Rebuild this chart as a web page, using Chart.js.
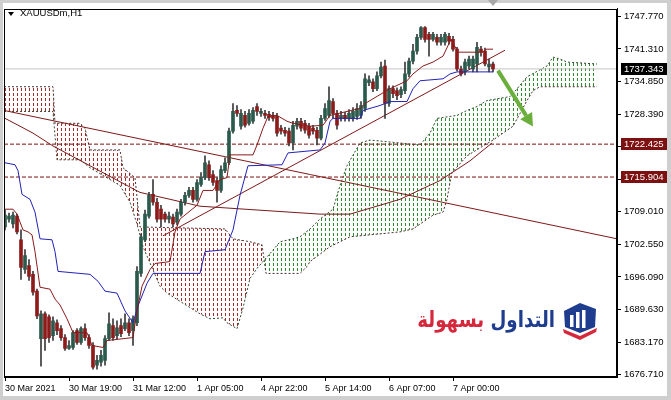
<!DOCTYPE html>
<html><head><meta charset="utf-8">
<script src="https://cdn.jsdelivr.net/npm/chart.js@4.4.1/dist/chart.umd.min.js"></script>
<style>
html,body{margin:0;padding:0;background:#fff;}
#wrap{position:relative;width:671px;height:400px;overflow:hidden;}
#c{position:absolute;left:0;top:0;}
#tri{position:absolute;left:8px;top:12px;width:0;height:0;border-left:3.5px solid transparent;border-right:3.5px solid transparent;border-top:4px solid #000;}
#title{position:absolute;left:20px;top:7px;font:9.5px 'Liberation Sans','DejaVu Sans',sans-serif;line-height:12px;color:#000;white-space:nowrap;}
#logo{position:absolute;right:116px;top:304px;font:bold 22px 'DejaVu Sans',sans-serif;line-height:32px;white-space:nowrap;direction:rtl;transform:scaleX(0.83);transform-origin:right center;}
#icon{position:absolute;left:561px;top:301px;}
</style></head><body>
<div id="wrap">
<canvas id="c" width="671" height="400"></canvas>
<div id="tri"></div>
<div id="title">XAUUSDm,H1</div>
<div id="logo"><span style="color:#1e3d8f">التداول</span> <span style="color:#d6283c">بسهولة</span></div>
<svg id="icon" width="38" height="40" viewBox="0 0 38 40">
<path d="M3,10 L19,2 L35,8 L34,26 L19,32 L4,26 Z" fill="#1e3d8f"/>
<rect x="9" y="14" width="3.5" height="12" fill="#fff"/>
<rect x="15" y="11" width="3.5" height="16" fill="#fff"/>
<rect x="21" y="9" width="3.5" height="18" fill="#fff"/>
<path d="M2,28 L19,35 L36,27 L35,31 L19,39 L3,32 Z" fill="#d6283c"/>
</svg>
</div>
<script>
// ---- candle data (XAUUSDm H1), index 0 = 30 Mar 2021 ----
const opens=[1706.01,1707.57,1706.59,1708.16,1703.46,1697.59,1698.37,1696.61,1693.28,1683.88,1688.78,1688.19,1684.47,1687.01,1685.84,1684.08,1681.92,1682.12,1685.45,1683.10,1685.84,1684.08,1682.51,1678.59,1679.18,1679.57,1683.88,1686.43,1684.47,1686.43,1685.84,1687.01,1685.45,1687.01,1696.80,1703.46,1708.16,1712.47,1710.90,1709.53,1708.55,1707.57,1707.96,1706.98,1708.55,1710.90,1712.27,1713.25,1711.49,1714.42,1715.79,1718.34,1716.38,1715.21,1713.25,1717.17,1718.73,1725.00,1729.11,1725.98,1728.13,1726.56,1726.96,1729.89,1728.52,1728.52,1728.33,1728.13,1727.93,1725.59,1725.19,1725.00,1722.65,1725.98,1726.96,1726.56,1725.98,1725.59,1725.19,1723.63,1727.54,1728.13,1730.87,1728.52,1727.54,1728.13,1727.54,1727.54,1727.93,1728.13,1729.50,1734.59,1734.79,1733.42,1735.96,1737.92,1730.48,1733.42,1733.03,1732.24,1733.03,1736.35,1738.90,1740.86,1743.60,1745.56,1744.19,1743.21,1743.60,1742.62,1742.62,1743.79,1743.21,1741.25,1737.33,1736.75,1737.92,1737.33,1738.31,1741.25,1740.86,1737.73,1738.31];
const highs=[1709.33,1708.75,1708.94,1708.55,1705.42,1701.50,1699.54,1697.20,1693.67,1689.37,1689.17,1688.58,1688.19,1687.60,1686.43,1684.66,1683.49,1685.45,1685.84,1686.23,1686.82,1684.66,1683.10,1680.55,1681.53,1684.47,1688.97,1687.80,1687.40,1687.80,1688.78,1687.80,1688.39,1698.17,1704.64,1709.33,1712.86,1715.40,1711.68,1710.31,1708.94,1708.94,1708.55,1709.53,1711.49,1712.86,1713.84,1713.84,1715.40,1716.77,1720.10,1719.12,1717.17,1715.79,1718.14,1719.71,1725.59,1730.48,1730.09,1729.30,1728.91,1729.30,1729.70,1730.48,1729.50,1729.11,1728.91,1728.72,1728.52,1726.17,1725.78,1725.59,1726.96,1727.54,1727.54,1727.15,1726.56,1726.17,1725.78,1728.13,1730.48,1733.81,1731.46,1729.11,1728.91,1728.72,1729.30,1729.70,1730.48,1730.87,1736.35,1735.96,1735.38,1736.75,1738.70,1739.10,1734.01,1734.01,1733.61,1733.81,1738.70,1739.49,1742.23,1744.19,1745.75,1745.75,1744.58,1744.58,1744.19,1744.19,1744.58,1744.38,1743.79,1741.64,1737.92,1739.29,1739.88,1739.88,1742.62,1741.84,1741.45,1739.29,1738.70];
const lows=[1705.42,1706.98,1705.81,1704.64,1695.63,1696.80,1695.43,1692.50,1687.80,1678.40,1681.53,1683.10,1683.49,1684.66,1683.49,1681.53,1681.73,1681.73,1682.71,1682.71,1683.49,1681.92,1677.81,1677.81,1678.40,1678.59,1683.49,1683.49,1683.88,1684.27,1685.45,1684.47,1682.51,1686.43,1696.21,1703.07,1707.77,1710.31,1706.98,1706.01,1706.98,1706.79,1706.01,1706.40,1708.16,1710.31,1711.88,1710.90,1711.10,1714.03,1715.40,1715.21,1714.23,1710.90,1712.86,1716.77,1718.34,1724.61,1727.93,1725.39,1725.78,1726.17,1726.56,1728.13,1727.93,1727.54,1727.15,1726.96,1724.02,1724.41,1724.02,1722.06,1721.28,1725.39,1725.00,1724.61,1723.63,1724.41,1722.26,1723.24,1727.15,1727.74,1727.54,1725.39,1726.96,1726.96,1726.96,1726.96,1727.35,1727.54,1728.91,1734.01,1732.83,1733.03,1735.57,1727.54,1729.89,1731.65,1731.26,1731.65,1732.44,1735.77,1738.31,1740.27,1743.21,1742.62,1739.88,1742.82,1742.03,1742.03,1742.03,1742.23,1740.86,1736.94,1735.96,1736.16,1737.33,1736.75,1736.75,1739.88,1737.92,1736.75,1736.75];
const closes=[1708.35,1708.16,1708.35,1705.03,1697.98,1700.33,1696.21,1693.08,1688.39,1688.78,1683.88,1684.08,1687.40,1685.45,1684.08,1681.92,1682.51,1685.06,1683.10,1685.84,1684.08,1682.51,1678.20,1679.57,1680.55,1683.88,1686.82,1684.08,1686.03,1684.86,1687.01,1685.06,1687.80,1697.20,1704.05,1708.55,1712.27,1710.90,1707.57,1707.57,1707.57,1708.16,1706.59,1708.94,1710.90,1712.27,1713.25,1711.49,1714.82,1715.79,1718.73,1715.79,1714.82,1713.25,1717.36,1718.73,1725.00,1728.91,1728.52,1728.52,1726.17,1728.52,1729.11,1728.91,1728.91,1728.13,1727.74,1727.54,1724.61,1725.00,1724.61,1722.65,1726.17,1726.96,1725.59,1725.19,1724.22,1725.00,1723.63,1727.54,1729.50,1731.07,1728.52,1726.17,1728.13,1727.54,1728.52,1728.91,1729.50,1730.09,1735.38,1735.18,1733.42,1735.96,1737.73,1730.48,1733.42,1732.44,1732.05,1733.22,1736.35,1738.90,1740.86,1743.60,1745.56,1743.21,1743.21,1744.19,1742.62,1743.60,1744.19,1742.82,1741.25,1737.33,1736.35,1738.70,1739.29,1739.29,1741.64,1740.66,1738.31,1738.31,1737.34];

// ---- axis ticks ----
const xTickIndex=[0,16,32,48,64,80,96,112];
const xTickLabels=['30 Mar 2021','30 Mar 19:00','31 Mar 12:00','1 Apr 05:00','4 Apr 22:00','5 Apr 14:00','6 Apr 07:00','7 Apr 00:00'];
const yTickValues=[1747.770,1741.310,1734.850,1728.390,1721.930,1715.470,1709.010,1702.550,1696.090,1689.630,1683.170,1676.710];

// ---- indicator lines [bar index, price] ----
const tenkan=[[0,1709.53],[2,1709.53],[3,1708.55],[3.75,1706.98],[4.5,1705.42],[5.75,1705.03],[6.75,1704.44],[7.5,1701.11],[8.75,1694.06],[11.25,1693.67],[12.5,1691.71],[13.75,1690.54],[15.5,1687.80],[17,1685.06],[20.5,1685.06],[21.75,1682.51],[24.5,1682.12],[25.5,1683.49],[32,1684.08],[33,1689.37],[34.25,1694.26],[36.25,1697.59],[37.5,1698.76],[41.25,1699.15],[42.5,1705.03],[43.75,1707.57],[48,1710.31],[49.5,1713.25],[52,1713.25],[53.75,1715.40],[55.5,1715.79],[56.25,1720.30],[62,1720.30],[63,1722.26],[64.5,1725.59],[65.75,1727.93],[68,1728.13],[70.5,1726.96],[72,1726.56],[76.25,1725.98],[79.5,1726.17],[81.25,1728.13],[88.75,1729.50],[90,1730.48],[96.25,1733.42],[100.5,1734.99],[102,1736.35],[104.5,1737.92],[107,1738.70],[109.5,1739.88],[111.5,1743.21],[113.25,1740.66],[119.5,1740.66],[120.25,1741.25],[122,1741.25]];
const kijun=[[0,1718.73],[2.5,1718.34],[3.25,1717.17],[4.25,1712.47],[6.25,1711.49],[7.5,1708.94],[8.75,1703.66],[11.75,1703.46],[12.5,1701.11],[13.25,1697.20],[21.25,1696.61],[23.25,1695.24],[25,1693.28],[28,1692.89],[30,1689.37],[32,1687.01],[33.25,1690.35],[35.5,1694.85],[37,1696.80],[48.75,1696.80],[50,1701.11],[55,1701.50],[57,1705.42],[58.75,1712.27],[60.75,1718.14],[69.25,1718.34],[70.75,1720.69],[78.75,1721.28],[80,1722.65],[81.25,1726.96],[82,1727.54],[88.75,1727.54],[89.5,1729.11],[93.75,1730.09],[96.25,1730.87],[100.5,1730.87],[102,1733.42],[103.75,1734.99],[109.5,1735.38],[111.25,1736.35],[113,1736.75],[122,1736.75]];
const movingAvg=[[0,1727.54],[3.75,1725.98],[7,1724.61],[12,1722.06],[21.25,1718.14],[30.5,1714.23],[33.75,1712.86],[48.75,1710.12],[63.75,1709.33],[78.75,1708.55],[86.25,1708.55],[98.75,1711.49],[108.75,1715.21],[116.25,1719.12],[121.75,1722.65]];
const senkouA=[[-0.25,1728.91],[12,1728.91],[13,1719.32],[18.75,1719.32],[21.25,1717.75],[28.75,1714.23],[31.25,1710.90],[33,1706.59],[34.5,1702.09],[38.75,1694.26],[40.5,1692.89],[48.75,1688.78],[51.25,1687.80],[54.5,1687.99],[55.5,1687.01],[58,1685.84],[59.5,1689.95],[61.25,1695.82],[63,1697.78],[64.5,1699.15],[66.25,1700.72],[68.75,1703.07],[72,1703.66],[73.75,1704.05],[76.25,1705.62],[78.75,1707.57],[82,1709.53],[83.75,1714.23],[85.5,1718.14],[88.75,1722.65],[91.25,1723.24],[98.75,1722.65],[103.75,1722.26],[106.25,1724.61],[108,1727.54],[113,1728.13],[115.5,1729.11],[118,1729.89],[120.5,1731.07],[126.25,1731.85],[127,1732.44],[130.5,1735.77],[135.5,1737.92],[137,1739.68],[138.75,1739.29],[140.5,1738.70],[148,1738.31]];
const senkouB=[[-0.25,1733.81],[12,1733.81],[12.5,1726.56],[18.75,1726.56],[20,1725.59],[21.25,1721.28],[28.75,1721.28],[29.5,1717.75],[32.5,1715.79],[33.75,1706.01],[55,1705.62],[57,1703.66],[61.25,1703.07],[64.25,1702.49],[65.25,1696.80],[73.75,1696.80],[75.5,1698.17],[76.25,1699.15],[81.25,1702.09],[86.25,1704.05],[98.75,1705.03],[102,1705.62],[107,1708.35],[109.5,1708.94],[110.5,1711.49],[111.25,1714.82],[111.75,1716.77],[115.5,1720.10],[119.5,1722.06],[122,1723.24],[127,1725.98],[128.75,1728.52],[130.5,1731.07],[132,1733.03],[133.75,1733.81],[148,1733.81]];
const trendDown=[[-0.25,1729.11],[153,1703.66]];
const trendUp=[[39.5,1704.25],[125,1741.05]];
const levels=[1722.425,1715.904];
const bidPrice=1737.343;
const forecastArrow=[[123.25,1737.0],[132,1725.9]];

const X_MIN=-0.25, X_MAX=153, Y_MIN=1676.26, Y_MAX=1749.28;
const pts=a=>a.map(p=>({x:p[0],y:p[1]}));
const hline=v=>[{x:X_MIN,y:v},{x:X_MAX,y:v}];

const ctx0=document.getElementById('c').getContext('2d');
const BULL='#2a5a4c', BEAR='#8e1b1b';
const CLOUD_UP='#2e8b2e', CLOUD_DOWN='#a52a2a';
const IDX_B=2, IDX_A=3;

// Ichimoku cloud: area between Senkou A and B, drawn as one dotted column per bar
const cloudPlugin={id:'cloud',
 beforeDatasetsDraw(chart){
  const c=chart.ctx,a=chart.chartArea,xs=chart.scales.x;
  const pa=chart.getDatasetMeta(IDX_A).data, pb=chart.getDatasetMeta(IDX_B).data;
  if(!pa.length||!pb.length) return;
  const dots=()=>{c.beginPath();
    for(let k=Math.ceil(X_MIN);k<=Math.floor(X_MAX);k++){const px=Math.round(xs.getPixelForValue(k));
      for(let y=Math.floor(a.top);y<a.bottom;y+=5){c.rect(px,y,1,3);}}};
  [[CLOUD_UP,a.top],[CLOUD_DOWN,a.bottom]].forEach(([col,edge])=>{
    c.save();
    c.beginPath();c.rect(a.left,a.top,a.right-a.left,a.bottom-a.top);c.clip();
    c.beginPath();c.moveTo(pb[0].x,edge);pb.forEach(p=>c.lineTo(p.x,p.y));c.lineTo(pb[pb.length-1].x,edge);c.closePath();c.clip();
    dots();c.clip();
    c.beginPath();c.moveTo(pa[0].x,pa[0].y);pa.forEach(p=>c.lineTo(p.x,p.y));
    for(let k=pb.length-1;k>=0;k--)c.lineTo(pb[k].x,pb[k].y);c.closePath();
    c.fillStyle=col;c.fill();
    c.restore();
  });
 }
};

const framePlugin={id:'frame',
 beforeDraw(chart){const c=chart.ctx;c.save();c.fillStyle='#cfcfcf';c.fillRect(0,0,chart.width,chart.height);c.fillStyle='#fff';c.fillRect(3,3,chart.width-7,chart.height-7);c.restore();},
 afterDraw(chart){const c=chart.ctx,a=chart.chartArea,xs=chart.scales.x,ys=chart.scales.y;c.save();
  c.strokeStyle='#000';c.lineWidth=1;c.strokeRect(Math.round(a.left)+0.5,Math.round(a.top)+0.5,Math.round(a.right-a.left)-1,Math.round(a.bottom-a.top)-1);
  const x1=xs.getPixelForValue(forecastArrow[0][0]),y1=ys.getPixelForValue(forecastArrow[0][1]);
  const x2=xs.getPixelForValue(forecastArrow[1][0]),y2=ys.getPixelForValue(forecastArrow[1][1]);
  const ang=Math.atan2(y2-y1,x2-x1),hl=13,hw=7;
  const bx=x2-hl*Math.cos(ang),by=y2-hl*Math.sin(ang);
  c.strokeStyle='#6aae3c';c.fillStyle='#6aae3c';c.lineWidth=4;c.lineCap='butt';
  c.beginPath();c.moveTo(x1,y1);c.lineTo(bx,by);c.stroke();
  c.beginPath();c.moveTo(x2,y2);c.lineTo(bx+hw*Math.sin(ang),by-hw*Math.cos(ang));c.lineTo(bx-hw*Math.sin(ang),by+hw*Math.cos(ang));c.closePath();c.fill();
  const sx=Math.round(xs.getPixelForValue(opens.length-1));
  c.fillStyle='#a8a8a8';c.beginPath();c.moveTo(sx-5,0);c.lineTo(sx+5,0);c.lineTo(sx,6);c.closePath();c.fill();
  c.font='9.5px "Liberation Sans"';c.textBaseline='middle';c.textAlign='left';
  [[bidPrice,'#000'],[levels[0],'#7d1010'],[levels[1],'#7d1010']].forEach(([v,bg])=>{const py=Math.round(ys.getPixelForValue(v));c.fillStyle=bg;c.fillRect(a.right+4,py-6,46,12);c.fillStyle='#fff';c.fillText(v.toFixed(3),a.right+7,py+0.5);});
  c.restore();}
};

const lineDs=(data,color,order,extra)=>Object.assign({type:'line',data,borderColor:color,backgroundColor:color,borderWidth:1,pointRadius:0,fill:false,tension:0,order},extra||{});

new Chart(ctx0,{
 type:'bar',
 data:{datasets:[
  {type:'bar',label:'wick',data:opens.map((o,i)=>({x:i,y:[lows[i],highs[i]]})),backgroundColor:'#3a3a3a',barThickness:1,grouped:false,order:4},
  {type:'bar',label:'body',data:opens.map((o,i)=>({x:i,y:[o,closes[i]]})),backgroundColor:opens.map((o,i)=>closes[i]>=o?BULL:BEAR),barThickness:3,minBarLength:1,grouped:false,order:3},
  lineDs(pts(senkouB),'#4a3030',9,{borderDash:[2,2]}),
  lineDs(pts(senkouA),'#304a30',9,{borderDash:[2,2]}),
  lineDs(hline(bidPrice),'#c4c4c4',8),
  lineDs(hline(levels[0]),'#7d1010',7,{borderDash:[4,2]}),
  lineDs(hline(levels[1]),'#7d1010',7,{borderDash:[4,2]}),
  lineDs(pts(trendDown),'#801818',6),
  lineDs(pts(trendUp),'#801818',6),
  lineDs(pts(movingAvg),'#7a1a1a',5),
  lineDs(pts(tenkan),'#8b1a1a',1),
  lineDs(pts(kijun),'#2222b8',1)
 ]},
 options:{
  responsive:false,animation:false,devicePixelRatio:1,
  layout:{padding:{left:4,top:4,right:0,bottom:0}},
  plugins:{legend:{display:false},tooltip:{enabled:false}},
  scales:{
   x:{type:'linear',min:X_MIN,max:X_MAX,offset:false,
      grid:{display:true,drawOnChartArea:false,drawTicks:true,tickLength:4,color:'#000',offset:false},
      border:{display:true,color:'#000'},
      ticks:{autoSkip:false,maxRotation:0,minRotation:0,align:'start',padding:2,color:'#000',font:{family:'Liberation Sans',size:9},
        callback:(v)=>{const k=xTickIndex.indexOf(v);return k>=0?xTickLabels[k]:'';}},
      afterBuildTicks:(s)=>{s.ticks=xTickIndex.map(v=>({value:v}));},
      afterFit:(s)=>{s.height=23;}},
   y:{type:'linear',position:'right',min:Y_MIN,max:Y_MAX,
      grid:{display:true,drawOnChartArea:false,drawTicks:true,tickLength:4,color:'#000'},
      border:{display:true,color:'#000'},
      ticks:{autoSkip:false,padding:3,color:'#000',font:{family:'Liberation Sans',size:9.5},callback:(v)=>Number(v).toFixed(3)},
      afterBuildTicks:(s)=>{s.ticks=yTickValues.map(v=>({value:v}));},
      afterFit:(s)=>{s.width=54;}}
  }
 },
 plugins:[framePlugin,cloudPlugin]
});
</script>
</body></html>
